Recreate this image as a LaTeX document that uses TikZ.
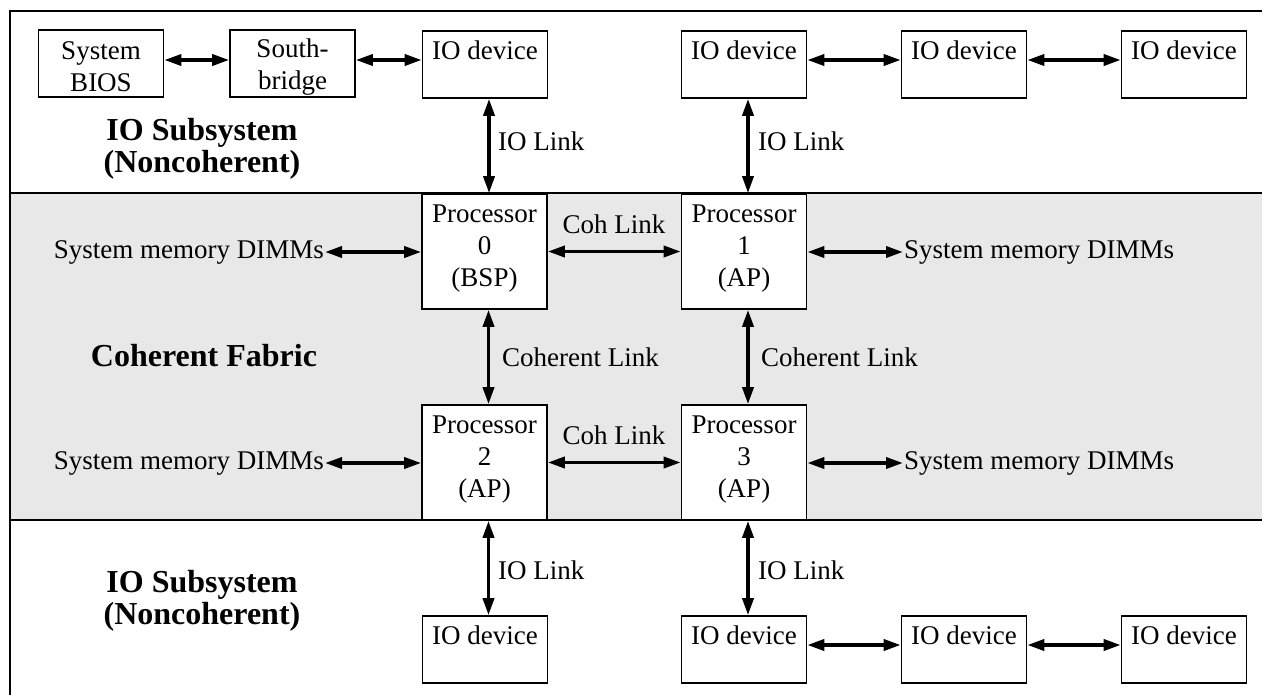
\documentclass[tikz,border=0pt]{standalone}
\usepackage{fontspec}
\setmainfont{Liberation Serif}
\usetikzlibrary{arrows.meta}
\begin{document}
\begin{tikzpicture}[x=1pt,y=-1pt,
  box/.style={draw, line width=1.6pt, fill=white, minimum width=125pt, minimum height=67pt, inner sep=0pt, align=center, font=\fontsize{27}{32}\selectfont},
  proc/.style={box, minimum height=115pt},
  link/.style={line width=3.5pt, {Triangle[length=17pt,width=11pt]}-{Triangle[length=17pt,width=11pt]}},
  lbl/.style={font=\fontsize{27}{32}\selectfont, inner sep=1pt},
  ttl/.style={font=\fontsize{32}{32}\selectfont\bfseries, align=center, inner sep=0pt},
  frame/.style={line width=1.6pt}]
\useasboundingbox (0,0) rectangle (1262,694);
\fill[black!9] (10,193) rectangle (1262,520);
\draw[frame] (1266,11) -- (10,11) -- (10,698);
\draw[frame] (10,193) -- (1266,193);
\draw[frame] (10,520) -- (1266,520);

% top row
\node[box] (bios) at (101,63.5) {\rule{0pt}{25pt}System\\BIOS};
\node[box] (sb) at (292.5,63.5) {\rule{0pt}{25pt}South-\\bridge};
\node[box] (io0) at (485,64.5) {};
\node[box] (io1) at (744,64.5) {};
\node[box] (io2) at (964,64.5) {};
\node[box] (io3) at (1184,64.5) {};
\node[lbl] (io0t) at ([yshift=-20pt]io0.north) {IO device};
\node[lbl] (io1t) at ([yshift=-20pt]io1.north) {IO device};
\node[lbl] (io2t) at ([yshift=-20pt]io2.north) {IO device};
\node[lbl] (io3t) at ([yshift=-20pt]io3.north) {IO device};

% processors
\node[proc] (p0) at (484.5,251.5) {Processor\\0\\(BSP)\rule[-12pt]{0pt}{1pt}};
\node[proc] (p1) at (744,251.5) {Processor\\1\\(AP)\rule[-12pt]{0pt}{1pt}};
\node[proc] (p2) at (484.5,462.5) {Processor\\2\\(AP)\rule[-12pt]{0pt}{1pt}};
\node[proc] (p3) at (744,462.5) {Processor\\3\\(AP)\rule[-12pt]{0pt}{1pt}};

% bottom row
\node[box] (io4) at (485,649.5) {};
\node[box] (io5) at (744,649.5) {};
\node[box] (io6) at (964,649.5) {};
\node[box] (io7) at (1184,649.5) {};
\node[lbl] (io4t) at ([yshift=-20pt]io4.north) {IO device};
\node[lbl] (io5t) at ([yshift=-20pt]io5.north) {IO device};
\node[lbl] (io6t) at ([yshift=-20pt]io6.north) {IO device};
\node[lbl] (io7t) at ([yshift=-20pt]io7.north) {IO device};

% memory labels
\node[lbl, anchor=east] (m0) at (325,252) {System memory DIMMs};
\node[lbl, anchor=west] (m1) at (903,252) {System memory DIMMs};
\node[lbl, anchor=east] (m2) at (325,463) {System memory DIMMs};
\node[lbl, anchor=west] (m3) at (903,463) {System memory DIMMs};

% titles
\node[ttl] (t0) at (202,149) {IO Subsystem\\(Noncoherent)};
\node[ttl] (t1) at (204,356) {Coherent Fabric};
\node[ttl] (t2) at (202,601) {IO Subsystem\\(Noncoherent)};

% link labels
\node[lbl, anchor=west] (l0) at (497,141) {IO Link};
\node[lbl, anchor=west] (l1) at (757,141) {IO Link};
\node[lbl] (l2) at (614,224) {Coh Link};
\node[lbl, anchor=west] (l3) at (501,357) {Coherent Link};
\node[lbl, anchor=west] (l4) at (760,357) {Coherent Link};
\node[lbl] (l5) at (614,435) {Coh Link};
\node[lbl, anchor=west] (l6) at (497,570) {IO Link};
\node[lbl, anchor=west] (l7) at (757,570) {IO Link};

% horizontal links
\draw[link] ([yshift=3.5pt]bios.east) -- ([yshift=3.5pt]sb.west);
\draw[link] ([yshift=3.5pt]sb.east) -- ([yshift=3.5pt]io0.west |- sb.east);
\draw[link] ([yshift=4.5pt]io1.east) -- ([yshift=4.5pt]io2.west);
\draw[link] ([yshift=4.5pt]io2.east) -- ([yshift=4.5pt]io3.west);
\draw[link] ([yshift=4.5pt]io5.east) -- ([yshift=4.5pt]io6.west);
\draw[link] ([yshift=4.5pt]io6.east) -- ([yshift=4.5pt]io7.west);
\draw[link] (p0.east) -- (p1.west);
\draw[link] (p2.east) -- (p3.west);
\draw[link] (m0.east) -- (m0.east -| p0.west);
\draw[link] (p1.east |- m1.west) -- (m1.west);
\draw[link] (m2.east) -- (m2.east -| p2.west);
\draw[link] (p3.east |- m3.west) -- (m3.west);

% vertical links
\draw[link] ([xshift=4pt]io0.south) -- ([xshift=4pt]io0.south |- p0.north);
\draw[link] ([xshift=4pt]io1.south) -- ([xshift=4pt]io1.south |- p1.north);
\draw[link] ([xshift=4pt]p0.south) -- ([xshift=4pt]p2.north);
\draw[link] ([xshift=4pt]p1.south) -- ([xshift=4pt]p3.north);
\draw[link] ([xshift=4pt]p2.south) -- ([xshift=4pt]p2.south |- io4.north);
\draw[link] ([xshift=4pt]p3.south) -- ([xshift=4pt]p3.south |- io5.north);
\end{tikzpicture}
\end{document}
